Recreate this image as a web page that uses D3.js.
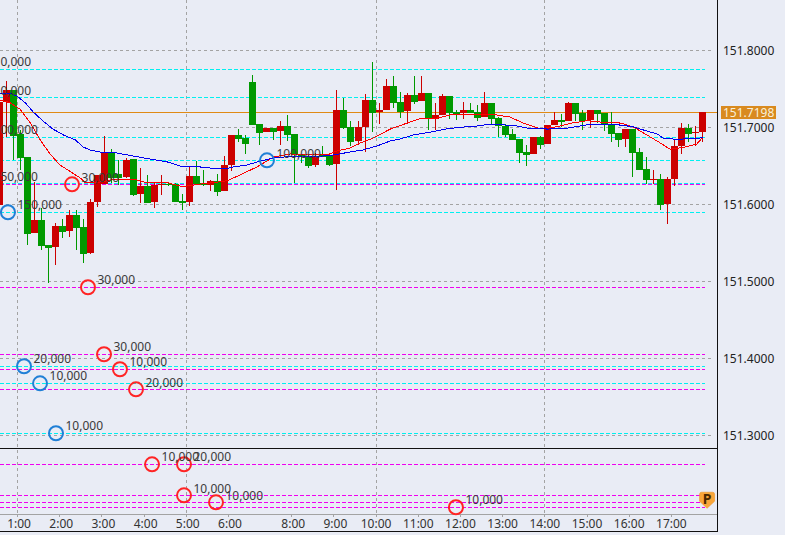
<!DOCTYPE html>
<html><head><meta charset="utf-8">
<style>html,body{margin:0;padding:0;background:#e9ecf5;overflow:hidden}svg{display:block}</style>
<script src="https://cdn.jsdelivr.net/npm/d3@7/dist/d3.min.js"></script></head><body><div id="c"></div>
<script>
const opens=[151.5993,151.7331,151.7487,151.6915,151.6617,151.5630,151.5799,151.5474,151.5448,151.5721,151.5656,151.5864,151.5708,151.5370,151.6032,151.6266,151.6682,151.6396,151.6357,151.6591,151.6136,151.6240,151.6032,151.6253,151.6266,151.6266,151.6045,151.6032,151.6370,151.6279,151.6253,151.6305,151.6175,151.6513,151.6903,151.6864,151.7591,151.7045,151.6941,151.6993,151.6954,151.7019,151.6915,151.6643,151.6617,151.6513,151.6643,151.6630,151.6526,151.7227,151.7006,151.6825,151.7006,151.7357,151.7201,151.7227,151.7539,151.7331,151.7214,151.7422,151.7344,151.7448,151.7110,151.7162,151.7409,151.7201,151.7188,151.7227,151.7201,151.7136,151.7318,151.7123,151.7019,151.6915,151.6851,151.6682,151.6656,151.6877,151.6786,151.7032,151.7097,151.7084,151.7318,151.7188,151.7097,151.7227,151.7188,151.7045,151.6928,151.6851,151.6980,151.6682,151.6461,151.6318,151.6331,151.6006,151.6331,151.6760,151.6993,151.6928,151.6941];
const highs=[151.7331,151.7604,151.7487,151.6967,151.6617,151.6292,151.5954,151.5474,151.5760,151.5812,151.5928,151.5928,151.5812,151.6071,151.6383,151.6890,151.6721,151.6578,151.6604,151.6591,151.6474,151.6383,151.6292,151.6383,151.6292,151.6279,151.6136,151.6487,151.6565,151.6448,151.6318,151.6396,151.6630,151.6903,151.6980,151.6903,151.7682,151.7045,151.6993,151.6993,151.7084,151.7162,151.6915,151.6643,151.6656,151.6669,151.6760,151.6643,151.7487,151.7383,151.7084,151.7084,151.7435,151.7851,151.7318,151.7630,151.7669,151.7461,151.7448,151.7669,151.7669,151.7448,151.7318,151.7435,151.7409,151.7227,151.7331,151.7318,151.7292,151.7461,151.7318,151.7136,151.7045,151.6980,151.6851,151.6773,151.6877,151.6890,151.7032,151.7201,151.7175,151.7331,151.7318,151.7227,151.7227,151.7227,151.7188,151.7201,151.6928,151.6980,151.6980,151.6734,151.6617,151.6448,151.6396,151.6357,151.6838,151.7058,151.7045,151.7019,151.7198];
const lows=[151.5993,151.6877,151.6578,151.6448,151.5474,151.5630,151.5409,151.4980,151.5214,151.5565,151.5578,151.5409,151.5240,151.5357,151.5967,151.6266,151.6279,151.6253,151.6344,151.6110,151.6019,151.6019,151.5954,151.6123,151.6240,151.6032,151.5928,151.5980,151.6266,151.6240,151.6175,151.6110,151.6175,151.6435,151.6812,151.6656,151.7032,151.6773,151.6941,151.6838,151.6773,151.6825,151.6279,151.6539,151.6474,151.6487,151.6617,151.6500,151.6188,151.6980,151.6760,151.6773,151.6682,151.6941,151.7045,151.7227,151.7253,151.7123,151.7045,151.7305,151.7344,151.6967,151.6967,151.7162,151.7110,151.7097,151.7110,151.7188,151.7084,151.7136,151.7045,151.6877,151.6877,151.6838,151.6539,151.6500,151.6656,151.6721,151.6786,151.7032,151.7006,151.7084,151.7084,151.6967,151.6993,151.7058,151.6954,151.6812,151.6747,151.6747,151.6357,151.6448,151.6266,151.6266,151.5928,151.5747,151.6240,151.6656,151.6812,151.6760,151.6812];
const closes=[151.7331,151.7487,151.6890,151.6604,151.5617,151.5799,151.5461,151.5435,151.5721,151.5643,151.5864,151.5695,151.5357,151.6032,151.6383,151.6682,151.6344,151.6344,151.6578,151.6123,151.6240,151.6019,151.6253,151.6266,151.6253,151.6032,151.6019,151.6370,151.6266,151.6253,151.6305,151.6162,151.6513,151.6903,151.6851,151.6786,151.7032,151.6928,151.6993,151.6941,151.7019,151.6903,151.6643,151.6617,151.6500,151.6630,151.6617,151.6513,151.7227,151.6993,151.6812,151.7006,151.7357,151.7188,151.7227,151.7539,151.7318,151.7201,151.7422,151.7331,151.7448,151.7123,151.7162,151.7409,151.7188,151.7175,151.7227,151.7188,151.7123,151.7318,151.7110,151.7019,151.6903,151.6838,151.6669,151.6643,151.6877,151.6773,151.7032,151.7097,151.7071,151.7318,151.7175,151.7084,151.7227,151.7175,151.7045,151.6915,151.6838,151.6980,151.6669,151.6448,151.6318,151.6331,151.5993,151.6331,151.6760,151.6993,151.6915,151.6941,151.7198];

const maIndex=[-0.9,0.5,1.5,2.7,3.8,5.2,6.6,8.1,9.8,10.9,11.9,13.3,15.7,18,20.4,22.9,24.7,27.6,29,31,32.2,34.2,36.1,38,39.9,42.2,45.1,46.5,48.9,50.7,52.7,54.6,56,57.9,60.3,62.7,65,67.4,68.4,72.1,74,76.9,79.2,81.6,82.6,84.9,87.3,89.1,91.1,92.6,93.4,95.4,98.2,99.1];
const maSlow=[151.7435,151.7444,151.7409,151.7318,151.7201,151.7084,151.6980,151.6903,151.6838,151.6747,151.6708,151.6682,151.6669,151.6630,151.6591,151.6552,151.6500,151.6487,151.6474,151.6461,151.6487,151.6513,151.6565,151.6604,151.6621,151.6617,151.6630,151.6643,151.6682,151.6708,151.6760,151.6825,151.6851,151.6903,151.6941,151.6984,151.7006,151.7023,151.7041,151.7028,151.6993,151.6980,151.6984,151.7019,151.7036,151.7041,151.7032,151.7010,151.6954,151.6915,151.6860,151.6847,151.6860,151.6868];
const maFastIndex=[-0.9,0.5,1.9,3.4,4.8,6.2,7.6,9.1,10.5,11.2,13.3,15.7,18,20,22.9,25,27.6,29,31.4,33.2,35.7,38,40.4,42.2,45.6,47,48.9,50.3,52.2,54.6,57,58.8,61.3,63.1,65.5,68.8,71.6,73.5,75.9,78.3,80.2,82.6,84.9,87.3,89.1,91.1,93,94.4,96.3,98.2,99.1];
const maFast=[151.7357,151.7322,151.7240,151.7058,151.6838,151.6656,151.6513,151.6426,151.6344,151.6283,151.6292,151.6331,151.6331,151.6283,151.6283,151.6231,151.6266,151.6279,151.6309,151.6383,151.6491,151.6617,151.6656,151.6643,151.6643,151.6695,151.6734,151.6799,151.6864,151.6980,151.7058,151.7114,151.7123,151.7162,151.7175,151.7175,151.7136,151.7058,151.6984,151.7010,151.7054,151.7088,151.7067,151.7058,151.7010,151.6903,151.6799,151.6717,151.6743,151.6786,151.6881];

const blueIndex=[-3.2,-3.2,-3.2,37.05,-3.2,0.21,2.49,4.77,7.04];
const bluePrice=[151.7756,151.7392,151.6873,151.6574,151.6275,151.5899,151.3899,151.3678,151.3029];
const blueSize=["10,000","10,000","100,000","100,000","150,000","150,000","20,000","10,000","10,000"];
const redIndex=[9.32,11.59,13.87,16.14,18.42,20.70,25.25,25.25,29.80,63.93];
const redPrice=[151.6262,151.4925,151.4055,151.3860,151.3600,151.2626,151.2626,151.2223,151.2132,151.2068];
const redSize=["30,000","30,000","30,000","10,000","20,000","10,000","20,000","10,000","10,000","10,000"];

const priceTicks=[151.8,151.7,151.6,151.5,151.4,151.3];
const hourTicks=[1,2,3,4,5,6,8,9,10,11,12,13,14,15,16,17];
const gridHours=[1,5,10,14];
const hourKnots=[1,6,8,17];
const hourCandles=[1.5,31.5,40.5,94.5];
const lastPrice=151.7198;
const pinIndex=99.65, pinPrice=151.2055;

const W=785,H=535,plotR=717,axisY=514,paneY=448,botY=531;
const svg=d3.select("#c").append("svg").attr("width",W).attr("height",H).style("font-family","'Noto Sans',sans-serif").style("font-size","12px");
const y=d3.scaleLinear().domain([151.8,151.3]).range([50.5,435.5]);
const x=d3.scaleLinear().domain([0,99]).range([6.5,702.5]);
const xHour=d3.scaleLinear().domain(hourKnots).range(hourCandles.map(x));
const row=v=>Math.floor(y(v))+0.5;
const plot=svg.append("g");

// grid
const gridX=d=>Math.round(xHour(d))+0.5;
plot.selectAll(".vg").data(gridHours).join("line").attr("x1",gridX).attr("x2",gridX).attr("y1",0).attr("y2",axisY)
 .attr("stroke","#a3a3a3").attr("stroke-dasharray","3,3");
plot.selectAll(".hg").data(priceTicks).join("line").attr("x1",0).attr("x2",714).attr("y1",row).attr("y2",row)
 .attr("stroke","#a3a3a3").attr("stroke-dasharray","3,3");
// levels
plot.selectAll(".cy").data(bluePrice).join("line").attr("x1",0).attr("x2",705).attr("y1",row).attr("y2",row).attr("stroke","#00f0f0").attr("stroke-dasharray","4,2");
plot.selectAll(".mg").data(redPrice).join("line").attr("x1",0).attr("x2",705).attr("y1",row).attr("y2",row).attr("stroke","#f000f0").attr("stroke-dasharray","4,2");
// last price
plot.append("line").attr("x1",0).attr("x2",plotR).attr("y1",row(lastPrice)).attr("y2",row(lastPrice)).attr("stroke","#e08a14");

// candles
const idx=d3.range(-1,opens.length-1);
const col=i=>closes[i+1]>=opens[i+1]?"#cc0000":"#009900";
const gc=plot.append("g").attr("shape-rendering","crispEdges");
gc.selectAll(".w").data(idx).join("rect").attr("x",k=>Math.floor(x(k))).attr("width",1)
 .attr("y",k=>Math.round(y(highs[k+1]))).attr("height",k=>Math.max(1,Math.round(y(lows[k+1]))-Math.round(y(highs[k+1])))).attr("fill",col);
gc.selectAll(".b").data(idx).join("rect").attr("x",k=>Math.floor(x(k))-3).attr("width",7)
 .attr("y",k=>Math.round(y(Math.max(opens[k+1],closes[k+1]))))
 .attr("height",k=>Math.max(1,Math.round(y(Math.min(opens[k+1],closes[k+1])))-Math.round(y(Math.max(opens[k+1],closes[k+1])))))
 .attr("fill",col);

// moving averages
const lineOf=(ks,vs,c,w)=>plot.append("path").attr("fill","none").attr("stroke",c).attr("stroke-width",w).attr("shape-rendering","crispEdges")
 .attr("d",d3.line().x((d,i)=>x(ks[i])).y(d=>y(d))(vs));
lineOf(maFastIndex,maFast,"#ff0000",1);
lineOf(maIndex,maSlow,"#0000f0",1);

// frame
const frame=svg.append("g").attr("shape-rendering","crispEdges");
frame.append("line").attr("x1",0).attr("x2",plotR).attr("y1",paneY+.5).attr("y2",paneY+.5).attr("stroke","#111");
frame.append("line").attr("x1",0).attr("x2",plotR).attr("y1",botY+.5).attr("y2",botY+.5).attr("stroke","#111");
frame.append("line").attr("x1",0).attr("x2",plotR).attr("y1",axisY+.5).attr("y2",axisY+.5).attr("stroke","#a3a3a3");
frame.append("line").attr("x1",plotR+.5).attr("x2",plotR+.5).attr("y1",0).attr("y2",botY+1).attr("stroke","#111");

// axes
const ay=svg.append("g").attr("transform",`translate(${plotR},0)`).call(d3.axisRight(y).tickValues(priceTicks).tickFormat(d3.format(".4f")).tickSize(0).tickPadding(6));
ay.select(".domain").remove();
ay.selectAll("text").attr("fill","#222").style("font-size","12px").style("font-family","'Noto Sans',sans-serif");
const ax=svg.append("g").attr("transform",`translate(0,${axisY})`).call(d3.axisBottom(xHour).tickValues(hourTicks).tickFormat(d=>d+":00").tickSize(3).tickPadding(2));
ax.select(".domain").remove();
ax.selectAll("line").attr("stroke","#a3a3a3").attr("shape-rendering","crispEdges");
ax.selectAll("text").attr("fill","#333").attr("dx",d=>d<10?1.5:0).style("font-size","12px").style("font-family","'Noto Sans',sans-serif");

// last price box
svg.append("rect").attr("x",721).attr("y",row(lastPrice)-6.5).attr("width",55).attr("height",13).attr("fill","#d98a1f");
svg.append("text").attr("x",723).attr("y",row(lastPrice)).attr("dy",".35em").attr("fill","#f8f0dc").text(d3.format(".4f")(lastPrice));

// order markers
const drawMarkers=(ks,ps,ss,c)=>{
 const g=svg.append("g");
 g.selectAll("circle").data(ps).join("circle").attr("cx",(d,i)=>x(ks[i])).attr("cy",d=>y(d)).attr("r",7).attr("fill","none").attr("stroke",c).attr("stroke-width",2);
 g.selectAll("text").data(ps).join("text").attr("x",(d,i)=>x(ks[i])+9.5).attr("y",d=>y(d)-7).attr("dy",".35em").attr("fill","#3a3a3a").text((d,i)=>ss[i]);
};
drawMarkers(blueIndex,bluePrice,blueSize,"#1f7fd6");
drawMarkers(redIndex,redPrice,redSize,"#ff2424");

// position pin
const pin=svg.append("g").attr("transform",`translate(${x(pinIndex)},${y(pinPrice)})`);
pin.append("path").attr("d","M0,0L-7.5,-7V-14Q-7.5,-16 -5.5,-16H5.5Q7.5,-16 7.5,-14V-7Z").attr("fill","#f9a63a").attr("stroke","#ee9528").attr("stroke-width",.6);
pin.append("text").attr("x",0).attr("y",-4).attr("text-anchor","middle").attr("fill","#4a2800").style("font-weight","bold").style("font-size","14px").text("P");
</script></body></html>
